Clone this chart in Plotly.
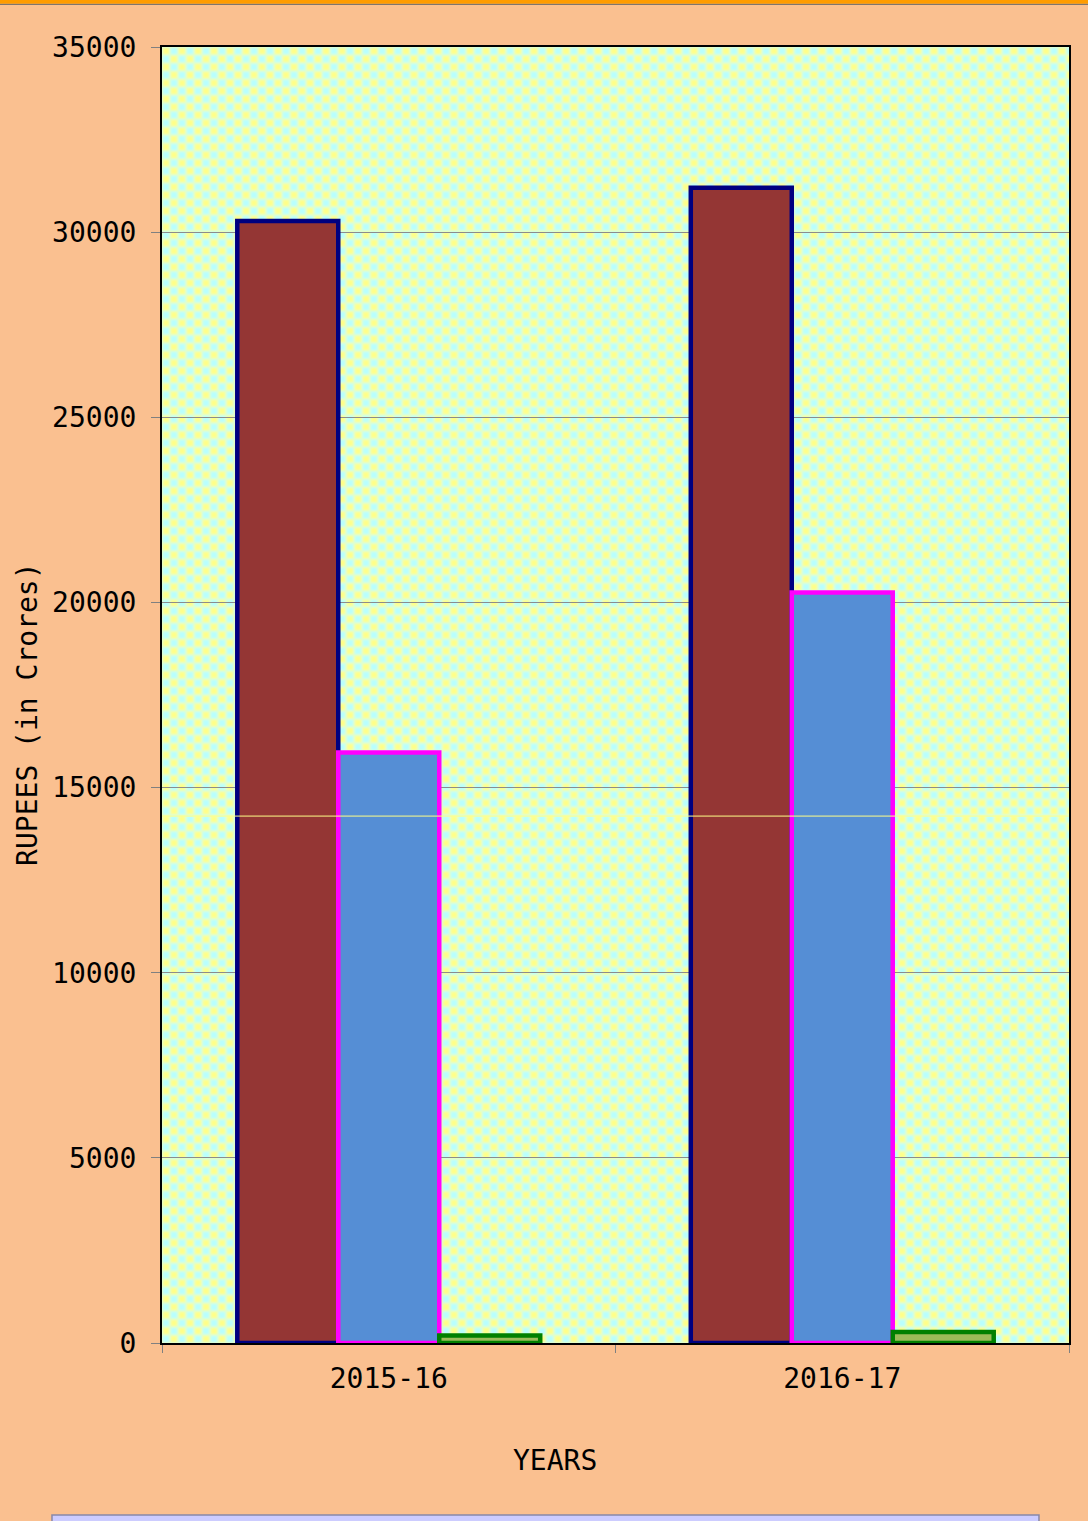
import base64
import plotly.graph_objects as go

# ---- data -------------------------------------------------------------
years = ["2015-16", "2016-17"]
series_1 = [30300, 31200]   # maroon bars
series_2 = [15950, 20270]   # blue bars
series_3 = [200, 300]       # green bars
level_line = 14230          # thin pale-yellow reference line
y_ticks = [0, 5000, 10000, 15000, 20000, 25000, 30000, 35000]

FONT = "DejaVu Sans Mono"
FSIZE = 28

# ---- soft yellow/cyan checker used as the plot-area fill ----------------
svg = (
    '<svg xmlns="http://www.w3.org/2000/svg" width="907" height="1296">'
    '<defs>'
    '<pattern id="chk" width="16" height="16" patternUnits="userSpaceOnUse">'
    '<rect width="16" height="16" fill="#b8ffff"/>'
    '<rect width="8" height="8" fill="#ffff88"/>'
    '<rect x="8" y="8" width="8" height="8" fill="#ffff88"/>'
    '</pattern>'
    '<filter id="soft" x="-0.05" y="-0.05" width="1.1" height="1.1">'
    '<feGaussianBlur stdDeviation="1.7"/></filter>'
    '</defs>'
    '<rect x="-20" y="-20" width="947" height="1336" fill="url(#chk)" filter="url(#soft)"/>'
    '</svg>'
)
bg_src = "data:image/svg+xml;base64," + base64.b64encode(svg.encode()).decode()

fig = go.Figure()
fig.add_trace(go.Bar(
    x=years, y=series_1, name="Series 1",
    marker=dict(color="#943634", line=dict(color="#000080", width=4.5)),
))
fig.add_trace(go.Bar(
    x=years, y=series_2, name="Series 2",
    marker=dict(color="#558ED5", line=dict(color="#FF00FF", width=4.5)),
))
fig.add_trace(go.Bar(
    x=years, y=series_3, name="Series 3",
    marker=dict(color="#9BBB59", line=dict(color="#008000", width=4.5)),
))

fig.update_layout(
    width=1088, height=1521,
    margin=dict(l=162, r=19, t=47, b=178),
    paper_bgcolor="#FAC090",
    plot_bgcolor="#e6ffd6",
    barmode="group", bargap=0.332, bargroupgap=0,
    showlegend=False,
    font=dict(family=FONT, color="black"),
    images=[dict(
        source=bg_src, xref="paper", yref="paper", x=0, y=1,
        sizex=1, sizey=1, sizing="stretch", xanchor="left", yanchor="top",
        layer="below",
    )],
)

fig.update_xaxes(
    type="category",
    showline=True, linecolor="black", linewidth=2, mirror=True,
    showgrid=False,
    ticks="outside", tickson="boundaries", ticklen=8, tickcolor="#808080", tickwidth=1,
    tickfont=dict(family=FONT, size=FSIZE, color="black"),
    ticklabelstandoff=9,
)
fig.update_yaxes(
    range=[0, 35000], tickvals=y_ticks, ticktext=[str(v) for v in y_ticks],
    showline=True, linecolor="black", linewidth=2, mirror=True,
    showgrid=True, gridcolor="#8c8c8c", gridwidth=1, zeroline=False,
    ticks="outside", ticklen=9, tickcolor="#808080", tickwidth=1,
    tickfont=dict(family=FONT, size=FSIZE, color="black"),
    ticklabelstandoff=9,
)

# axis titles placed as annotations so they sit off-centre like the original
fig.add_annotation(
    text="YEARS", xref="paper", yref="paper", x=0.4333, y=-0.0903,
    xanchor="center", yanchor="middle", showarrow=False,
    font=dict(family=FONT, size=FSIZE, color="black"),
)
fig.add_annotation(
    text="RUPEES (in Crores)", xref="paper", yref="paper", x=-0.149, y=0.4853,
    xanchor="center", yanchor="middle", textangle=-90, showarrow=False,
    font=dict(family=FONT, size=FSIZE, color="black"),
)

shapes = [
    # pale-yellow level line across the plot
    dict(type="line", xref="paper", yref="y", x0=0, x1=1, y0=level_line, y1=level_line,
         line=dict(color="#FFFF88", width=1), layer="above"),
    # orange rule along the top of the page
    dict(type="rect", xref="paper", yref="paper", x0=-0.2, x1=1.05, y0=1.0333, y1=1.045,
         fillcolor="#FF9C00", line=dict(width=0), layer="above"),
    dict(type="line", xref="paper", yref="paper", x0=-0.2, x1=1.05, y0=1.0329, y1=1.0329,
         line=dict(color="#6a6a6a", width=1), layer="above"),
    # legend panel peeking in at the bottom edge
    dict(type="rect", xref="paper", yref="paper", x0=-0.1213, x1=0.9669, y0=-0.16, y1=-0.1327,
         fillcolor="#CCCCFF", line=dict(color="#8888a8", width=1.5), layer="above"),
]
fig.update_layout(shapes=shapes)

fig.write_html("out.html")
